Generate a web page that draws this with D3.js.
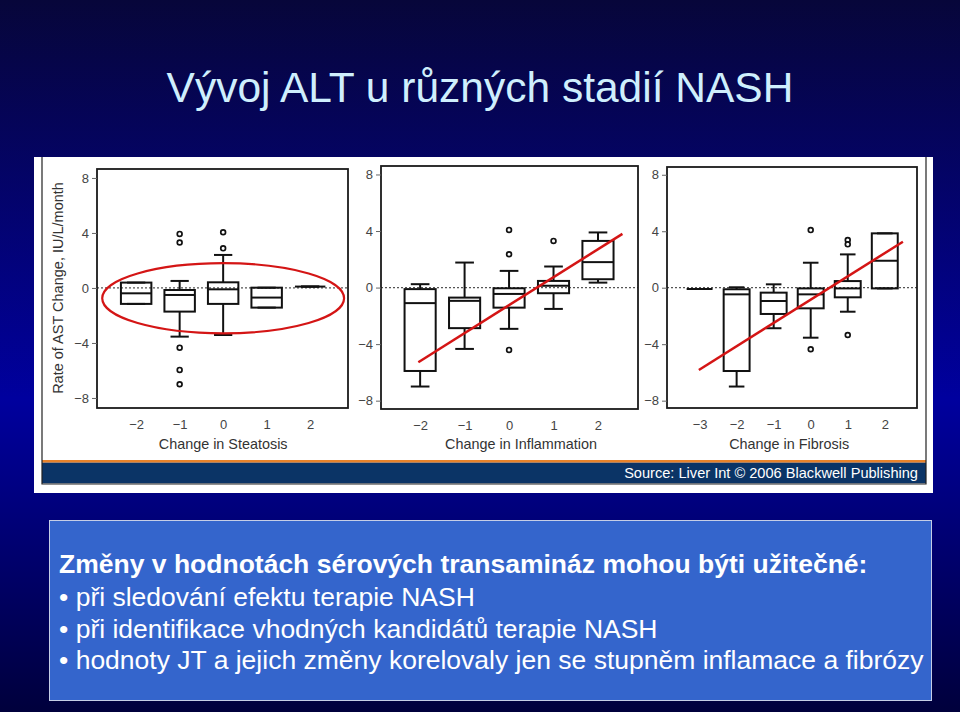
<!DOCTYPE html>
<html>
<head>
<meta charset="utf-8">
<script src="https://cdn.jsdelivr.net/npm/d3@7"></script>
<style>
  html, body { margin: 0; padding: 0; background: #000060; }
  svg { display: block; }
  text { font-family: "Liberation Sans", Arial, Helvetica, sans-serif; }
</style>
</head>
<body>
<svg id="chart" width="960" height="712"></svg>
<script>
// ---------------- DATA ----------------
const titleText = "Vývoj ALT u různých stadií NASH";
const yLabel = "Rate of AST Change, IU/L/month";
const yTicks = [-8, -4, 0, 4, 8];

// box stats: [lower whisker, q1, median, q3, upper whisker]
const steatosisLevels = [-2, -1, 0, 1, 2];
const steatosisBoxes = [
  [-1.16, -1.16, -0.39, 0.39, 0.39],
  [-3.54, -1.72, -0.51, -0.15, 0.51],
  [-3.42, -1.16, -0.10, 0.41, 2.40],
  [-1.43, -1.43, -0.70, 0.02, 0.02],
  [0.10, 0.10, 0.10, 0.10, 0.10]
];
const steatosisOutliers = [[-1, 3.93], [-1, 3.30], [-1, -4.34], [-1, -5.96], [-1, -7.0], [0, 4.05], [0, 2.88]];
const steatosisEllipse = [0.0, -0.75, 2.78, 2.55]; // cx, cy, rx, ry in data units

const inflammationLevels = [-2, -1, 0, 1, 2];
const inflammationBoxes = [
  [-7.00, -5.90, -1.10, -0.11, 0.24],
  [-4.34, -2.87, -0.94, -0.71, 1.77],
  [-2.92, -1.42, -0.45, -0.05, 1.18],
  [-1.51, -0.40, 0.12, 0.47, 1.49],
  [0.35, 0.59, 1.80, 3.30, 3.90]
];
const inflammationOutliers = [[0, 4.08], [0, 2.36], [0, -4.41], [1, 3.30]];
const inflammationTrend = [[-2.04, -5.28], [2.55, 3.80]];

const fibrosisLevels = [-3, -2, -1, 0, 1, 2];
const fibrosisBoxes = [
  [-0.09, -0.09, -0.09, -0.09, -0.09],
  [-7.00, -5.90, -0.47, -0.11, 0.03],
  [-2.87, -1.86, -0.94, -0.35, 0.24],
  [-3.54, -1.46, -0.47, -0.05, 1.77],
  [-1.70, -0.68, -0.05, 0.47, 2.36],
  [-0.05, -0.05, 1.91, 3.85, 3.85]
];
const fibrosisOutliers = [[0, 4.08], [0, -4.36], [1, 3.38], [1, 3.07], [1, -3.35]];
const fibrosisTrend = [[-3.02, -5.83], [2.49, 3.26]];

const sourceText = "Source: Liver Int © 2006 Blackwell Publishing";
const boxHeading = "Změny v hodnotách sérových transamináz mohou býti užitečné:";
const boxBullets = [
  "• při sledování efektu terapie NASH",
  "• při identifikace vhodných kandidátů terapie NASH",
  "• hodnoty JT a jejich změny korelovaly jen se stupněm inflamace a fibrózy"
];

// ---------------- DRAW ----------------
const svg = d3.select("#chart");
const defs = svg.append("defs");
const grad = defs.append("linearGradient").attr("id", "bg").attr("x1", 0).attr("y1", 0).attr("x2", 0).attr("y2", 1);
grad.append("stop").attr("offset", "0%").attr("stop-color", "#07063a");
grad.append("stop").attr("offset", "56%").attr("stop-color", "#00009e");
grad.append("stop").attr("offset", "100%").attr("stop-color", "#00003c");
svg.append("rect").attr("width", 960).attr("height", 712).attr("fill", "url(#bg)");

// Title
svg.append("text").attr("x", 480).attr("y", 102).attr("text-anchor", "middle")
  .attr("font-size", 42.5).attr("fill", "#cfeffd").text(titleText);

// Image frame
svg.append("rect").attr("x", 34).attr("y", 157).attr("width", 899).attr("height", 336).attr("fill", "#ffffff");
svg.append("rect").attr("x", 42).attr("y", 460).attr("width", 884).attr("height", 2.7).attr("fill", "#e8822a");
svg.append("rect").attr("x", 42).attr("y", 462.7).attr("width", 884).attr("height", 20.6).attr("fill", "#0b3466");
svg.append("path").attr("d", "M42,157 V484 H926 V157").attr("fill", "none").attr("stroke", "#222").attr("stroke-width", 1.2);
svg.append("text").attr("x", 918).attr("y", 478).attr("text-anchor", "end")
  .attr("font-size", 14.6).attr("fill", "#ffffff").text(sourceText);

// Y-axis label
svg.append("text").attr("transform", "translate(63,288) rotate(-90)").attr("text-anchor", "middle")
  .attr("font-size", 14.5).attr("fill", "#333").text(yLabel);

function panel(cfg) {
  const x = d3.scaleLinear().domain(cfg.xDomain).range([cfg.left, cfg.right]);
  const y = d3.scaleLinear().domain(cfg.yDomain).range([cfg.bottom, cfg.top]);
  const g = svg.append("g");

  // zero dotted line
  g.append("line").attr("x1", cfg.left).attr("x2", cfg.right).attr("y1", y(0)).attr("y2", y(0))
    .attr("stroke", "#555").attr("stroke-width", 1.3).attr("stroke-dasharray", "2,2");

  const halfW = (x(0.35) - x(0));
  const capW = halfW * 0.6;
  cfg.levels.forEach((lvl, i) => {
    const [lo, q1, med, q3, hi] = cfg.boxes[i];
    const cx = x(lvl);
    const bg = g.append("g").attr("stroke", "#111").attr("fill", "none").attr("stroke-width", 2);
    // whiskers
    bg.append("line").attr("x1", cx).attr("x2", cx).attr("y1", y(q3)).attr("y2", y(hi));
    bg.append("line").attr("x1", cx).attr("x2", cx).attr("y1", y(q1)).attr("y2", y(lo));
    bg.append("line").attr("x1", cx - capW).attr("x2", cx + capW).attr("y1", y(hi)).attr("y2", y(hi));
    bg.append("line").attr("x1", cx - capW).attr("x2", cx + capW).attr("y1", y(lo)).attr("y2", y(lo));
    // box
    bg.append("rect").attr("x", cx - halfW).attr("width", 2 * halfW)
      .attr("y", y(q3)).attr("height", Math.max(0, y(q1) - y(q3)));
    bg.append("line").attr("x1", cx - halfW).attr("x2", cx + halfW).attr("y1", y(med)).attr("y2", y(med));
  });

  g.selectAll("circle.out").data(cfg.outliers).enter().append("circle")
    .attr("cx", d => x(d[0])).attr("cy", d => y(d[1])).attr("r", 2.4)
    .attr("fill", "#fff").attr("stroke", "#111").attr("stroke-width", 1.7);

  // frame
  g.append("rect").attr("x", cfg.left).attr("y", cfg.top).attr("width", cfg.right - cfg.left)
    .attr("height", cfg.bottom - cfg.top).attr("fill", "none").attr("stroke", "#1a1a1a").attr("stroke-width", 1.8);

  // y axis
  const ya = g.append("g").attr("transform", `translate(${cfg.left},0)`)
    .call(d3.axisLeft(y).tickValues(yTicks).tickSize(5).tickPadding(3));
  ya.select(".domain").remove();
  ya.selectAll("line").attr("stroke", "#666");
  ya.selectAll("text").attr("font-size", 13).attr("fill", "#444")
    .style("font-family", '"Liberation Sans", Arial, sans-serif');

  // x axis
  const xa = g.append("g").attr("transform", `translate(0,${cfg.bottom})`)
    .call(d3.axisBottom(x).tickValues(cfg.levels).tickSize(0).tickPadding(12).tickFormat(d3.format("d")));
  xa.select(".domain").remove();
  xa.selectAll("text").attr("font-size", 13).attr("fill", "#444")
    .style("font-family", '"Liberation Sans", Arial, sans-serif');

  g.append("text").attr("x", (x(cfg.levels[0]) + x(cfg.levels[cfg.levels.length - 1])) / 2 + (cfg.titleShift || 0))
    .attr("y", 449).attr("text-anchor", "middle").attr("font-size", 14.4).attr("fill", "#333").text(cfg.title);

  return { x, y, g };
}

const p1 = panel({ left: 97, right: 348, top: 169, bottom: 408, xDomain: [-2.9, 2.87], yDomain: [-8.73, 8.65],
  levels: steatosisLevels, boxes: steatosisBoxes, outliers: steatosisOutliers, title: "Change in Steatosis" });
const p2 = panel({ left: 381, right: 638, top: 166, bottom: 409, xDomain: [-2.88, 2.9], yDomain: [-8.59, 8.6],
  levels: inflammationLevels, boxes: inflammationBoxes, outliers: inflammationOutliers, title: "Change in Inflammation", titleShift: 12 });
const p3 = panel({ left: 667, right: 917, top: 167, bottom: 408, xDomain: [-3.88, 2.87], yDomain: [-8.52, 8.55],
  levels: fibrosisLevels, boxes: fibrosisBoxes, outliers: fibrosisOutliers, title: "Change in Fibrosis", titleShift: -3 });

// red annotations
p1.g.append("ellipse")
  .attr("cx", p1.x(steatosisEllipse[0])).attr("cy", p1.y(steatosisEllipse[1]))
  .attr("rx", p1.x(steatosisEllipse[2]) - p1.x(0)).attr("ry", p1.y(0) - p1.y(steatosisEllipse[3]))
  .attr("fill", "none").attr("stroke", "#d41515").attr("stroke-width", 2.2);
const line2 = d3.line().x(d => p2.x(d[0])).y(d => p2.y(d[1]));
p2.g.append("path").attr("d", line2(inflammationTrend)).attr("stroke", "#d41515").attr("stroke-width", 2.5).attr("fill", "none");
const line3 = d3.line().x(d => p3.x(d[0])).y(d => p3.y(d[1]));
p3.g.append("path").attr("d", line3(fibrosisTrend)).attr("stroke", "#d41515").attr("stroke-width", 2.5).attr("fill", "none");

// text box
svg.append("rect").attr("x", 49.5).attr("y", 520.5).attr("width", 882).attr("height", 180)
  .attr("fill", "#3465cc").attr("stroke", "#c5cde6").attr("stroke-width", 1);
svg.append("text").attr("x", 59).attr("y", 573).attr("font-size", 26.5).attr("font-weight", "bold")
  .attr("fill", "#fff").text(boxHeading);
svg.selectAll("text.bul").data(boxBullets).enter().append("text")
  .attr("x", 59).attr("y", (d, i) => 606 + i * 31.5).attr("font-size", 26.5).attr("fill", "#fff").text(d => d);
</script>
</body>
</html>
